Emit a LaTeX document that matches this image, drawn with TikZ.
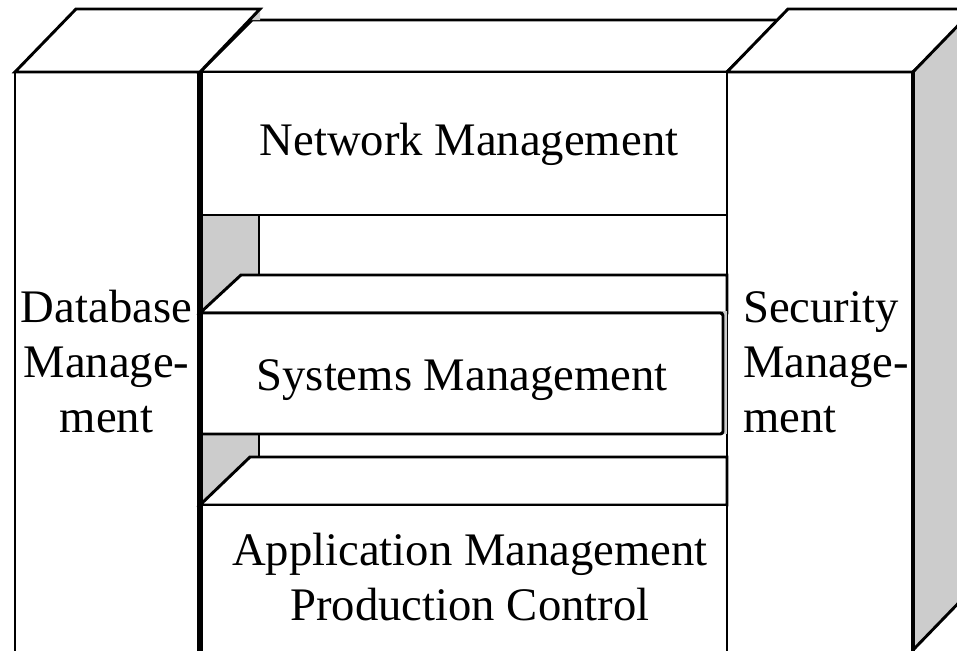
\documentclass[tikz,border=0pt]{standalone}
\usepackage{fontspec}
\setmainfont{Liberation Serif}
\usetikzlibrary{positioning}

\tikzset{
  outline/.style={line width=2.2pt, line join=miter},
  whiteface/.style={outline, fill=white},
  grayface/.style={fill=black!20},
  blocktext/.style={font=\fontsize{35}{41}\selectfont, inner sep=0pt}
}

\begin{document}
\begin{tikzpicture}[x=0.75pt, y=-0.75pt]
	\useasboundingbox (0,0) rectangle (957,650);
	\clip (0,0) rectangle (957,650);

	% middle column, top of network block
	\draw[whiteface] (200,72) -- (252,20) -- (779,20) -- (727,72) -- cycle;
	\fill[grayface] (249,20) -- (260,9) -- (260,20) -- cycle;

	% left pillar
	\draw[whiteface] (15,72) -- (76,9) -- (260,9) -- (200,72) -- cycle;
	\draw[outline] (15,670) -- (15,72) -- (200,72);

	% right pillar
	\draw[whiteface] (727,72) -- (788,9) -- (980,9) -- (913,72) -- cycle;
	\draw[outline, grayface] (913,72) -- (974,9) -- (974,587) -- (913,650) -- cycle;
	\draw[outline] (727,670) -- (727,72) -- (913,72);
	\draw[line width=3pt] (913,72) -- (913,670);

	% side face between the blocks
	\fill[grayface] (200,215) rectangle (259,505);
	\draw[outline] (259,215) -- (259,505);

	% network block
	\draw[whiteface] (200,72) rectangle (727,215);

	% systems block
	\draw[whiteface] (200,313) -- (241,275) -- (727,275) -- (727,313) -- cycle;
	\fill[grayface] (723,311) rectangle (727,434);
	\draw[whiteface, rounded corners=2pt] (200,313) rectangle (723,434);

	% application block
	\draw[whiteface] (200,505) -- (250,457) -- (727,457) -- (727,505) -- cycle;
	\draw[whiteface] (200,670) -- (200,505) -- (727,505) -- (727,670);

	\draw[line width=4pt] (200,72) -- (200,670);

	% labels
	\node[blocktext, anchor=base] (nettext) at (469,155) {Network Management};
	\node[blocktext, anchor=base] (systext) at (462,390) {Systems Management};
	\node[blocktext, anchor=base, align=center] (apptext) at (470,620) {Application Management\\Production Control};
	\node[blocktext, anchor=base, align=center] (dbtext) at (106.5,432) {Database\\Manage-\\ment};
	\node[blocktext, anchor=base west, align=left] (sectext) at (743,432) {Security\\Manage-\\ment};
\end{tikzpicture}
\end{document}
